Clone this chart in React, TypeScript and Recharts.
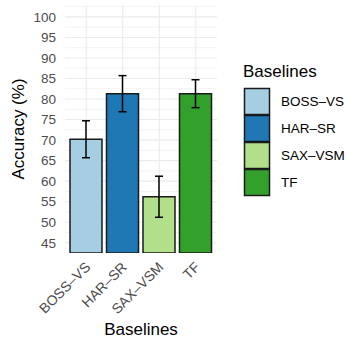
import React from 'react';
import { BarChart, Bar, XAxis, YAxis, CartesianGrid, ErrorBar, Cell, Legend } from 'recharts';

const categories = ['BOSS–VS', 'HAR–SR', 'SAX–VSM', 'TF'];
const accuracy = [70.2, 81.3, 56.2, 81.3];
const errors = [4.5, 4.4, 5.0, 3.4];
const colors = ['#a6cee3', '#1f78b4', '#b2df8a', '#33a02c'];
const majorTicks = [45, 50, 55, 60, 65, 70, 75, 80, 85, 90, 95, 100];
const minorTicks = [47.5, 52.5, 57.5, 62.5, 67.5, 72.5, 77.5, 82.5, 87.5, 92.5, 97.5, 102.5];

const data = categories.map((name, i) => ({ name, accuracy: accuracy[i], err: errors[i] }));

const FONT = '"Liberation Sans", Arial, Helvetica, sans-serif';

const XTick = (props: any) => {
  const { x, y, payload } = props;
  const ax = x + 5;
  const ay = y + 7;
  return (
    <text
      x={ax}
      y={ay}
      transform={`rotate(-45, ${ax}, ${ay})`}
      textAnchor="end"
      fill="#4d4d4d"
      fontSize={14}
      fontFamily={FONT}
    >
      {payload.value}
    </text>
  );
};

const renderLegend = () => (
  <svg width={104} height={140} style={{ fontFamily: FONT }}>
    <text x={0} y={17} fontSize={17} fill="#000">Baselines</text>
    {categories.map((c, i) => (
      <g key={c}>
        <rect x={1.5} y={28.5 + i * 27} width={25} height={26} fill={colors[i]} stroke="#1a1a1a" strokeWidth={1.5} />
        <text x={38} y={46 + i * 27} fontSize={13.5} fill="#000">{c}</text>
      </g>
    ))}
  </svg>
);

export default function App() {
  return (
    <div style={{ position: 'absolute', left: 0, top: 0, background: '#fff' }}>
      <BarChart
        width={347}
        height={340}
        data={data}
        margin={{ top: 5, right: 130, bottom: 0, left: 0 }}
        style={{ fontFamily: FONT }}
      >
        <CartesianGrid horizontalValues={minorTicks} vertical={false} stroke="#ebebeb" strokeWidth={0.6} syncWithTicks />
        <CartesianGrid horizontalValues={majorTicks} stroke="#ebebeb" strokeWidth={1.1} syncWithTicks />
        <XAxis
          dataKey="name"
          height={87}
          padding={{ left: 3, right: 3 }}
          tickLine={false}
          axisLine={false}
          interval={0}
          tick={<XTick />}
          label={{ value: 'Baselines', position: 'insideBottom', offset: 5, fill: '#000', fontSize: 17 }}
        />
        <YAxis
          type="number"
          domain={[42.5, 102.9]}
          allowDataOverflow
          ticks={majorTicks}
          interval={0}
          width={65}
          tickLine={false}
          axisLine={false}
          tickMargin={3}
          tick={{ fill: '#4d4d4d', fontSize: 13.5 }}
          label={{
            value: 'Accuracy (%)',
            angle: -90,
            position: 'insideLeft',
            offset: 18,
            fill: '#000',
            fontSize: 17,
            style: { textAnchor: 'middle' },
          }}
        />
        <Bar dataKey="accuracy" barSize={32} stroke="#1a1a1a" strokeWidth={1.5} isAnimationActive={false}>
          {data.map((d, i) => (
            <Cell key={d.name} fill={colors[i]} />
          ))}
          <ErrorBar dataKey="err" width={4} stroke="#000" strokeWidth={1.5} isAnimationActive={false} />
        </Bar>
        <Legend
          layout="vertical"
          align="center"
          verticalAlign="middle"
          wrapperStyle={{ left: 243, top: 60, width: 104, height: 140 }}
          content={renderLegend}
        />
      </BarChart>
    </div>
  );
}
